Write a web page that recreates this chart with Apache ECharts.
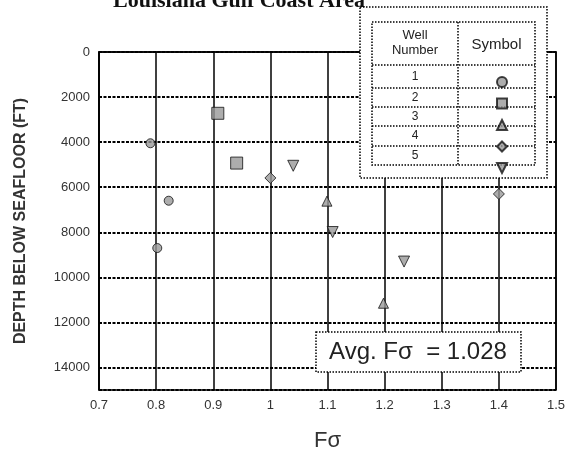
<!DOCTYPE html>
<html>
<head>
<meta charset="utf-8">
<script src="https://cdn.jsdelivr.net/npm/echarts@6/dist/echarts.min.js"></script>
<style>
  html, body { margin: 0; padding: 0; background: #fff; }
  #chart { width: 578px; height: 457px; }
</style>
</head>
<body>
<div id="chart"></div>
<script>
// values, one pair of arrays per well
const wellNames = ['1', '2', '3', '4', '5'];
const well1F = [0.79, 0.822, 0.802];
const well1Depth = [4050, 6600, 8700];
const well2F = [0.908, 0.941];
const well2Depth = [2720, 4930];
const well3F = [1.099, 1.198];
const well3Depth = [6620, 11150];
const well4F = [1.0, 1.4];
const well4Depth = [5590, 6300];
const well5F = [1.04, 1.109, 1.234];
const well5Depth = [5050, 7990, 9300];
const avgF = '1.028';

const font = 'Liberation Sans, Arial, sans-serif';

const pairs = (xs, ys) => xs.map((x, i) => [x, ys[i]]);

// marker look for each well
const symbols = [
    { symbol: 'circle', size: 9 },
    { symbol: 'rect', size: 12 },
    { symbol: 'triangle', size: 10 },
    { symbol: 'diamond', size: 11 },
    { symbol: 'path://M0,0 L10,0 L5,10 Z', size: 11 }
];
const wellData = [
    pairs(well1F, well1Depth),
    pairs(well2F, well2Depth),
    pairs(well3F, well3Depth),
    pairs(well4F, well4Depth),
    pairs(well5F, well5Depth)
];

const chart = echarts.init(document.getElementById('chart'));

// legend table geometry
const tblL = 372, tblR = 535, tblT = 22, tblB = 165, colX = 458;
const rowLines = [65, 88, 107, 126, 146];
const rowMid = [76.5, 97.5, 116.5, 136, 155.5];
const dotted = { stroke: '#000', lineWidth: 1.5, lineDash: [1.5, 1.5] };

const graphic = [
    { type: 'rect', z: 100, shape: { x: 360, y: 7, width: 187, height: 171 },
      style: Object.assign({ fill: '#fff' }, dotted) },
    { type: 'rect', z: 101, shape: { x: tblL, y: tblT, width: tblR - tblL, height: tblB - tblT },
      style: Object.assign({ fill: 'none' }, dotted) },
    { type: 'line', z: 101, shape: { x1: colX, y1: tblT, x2: colX, y2: tblB }, style: dotted },
    { type: 'text', z: 102, x: (tblL + colX) / 2, y: 43,
      style: { text: 'Well\nNumber', font: '13px ' + font, fill: '#222', align: 'center', verticalAlign: 'middle', lineHeight: 15 } },
    { type: 'text', z: 102, x: (colX + tblR) / 2, y: 45,
      style: { text: 'Symbol', font: '15px ' + font, fill: '#222', align: 'center', verticalAlign: 'middle' } },
    // average box
    { type: 'rect', z: 100, shape: { x: 316, y: 332, width: 205, height: 40 },
      style: Object.assign({ fill: '#fff' }, dotted) },
    { type: 'text', z: 102, x: 418, y: 352,
      style: { text: 'Avg. F\u03c3  = ' + avgF, font: '24px ' + font, fill: '#222', align: 'center', verticalAlign: 'middle' } }
];
rowLines.forEach(y => {
    graphic.push({ type: 'line', z: 101, shape: { x1: tblL, y1: y, x2: tblR, y2: y }, style: dotted });
});
wellNames.forEach((n, i) => {
    graphic.push({ type: 'text', z: 102, x: (tblL + colX) / 2, y: rowMid[i],
        style: { text: n, font: '12px ' + font, fill: '#222', align: 'center', verticalAlign: 'middle' } });
});

const option = {
    animation: false,
    backgroundColor: '#fff',
    title: {
        text: 'Louisiana Gulf Coast Area',
        left: 108,
        top: -15,
        textStyle: { fontFamily: 'Liberation Serif, Times New Roman, serif', fontWeight: 'bold', fontSize: 22, color: '#111' }
    },
    grid: { left: 99, right: 22, top: 52, bottom: 62, show: true, borderColor: '#000', borderWidth: 1.5 },
    legend: {
        orient: 'vertical',
        left: 491,
        top: 71,
        z: 110,
        itemWidth: 10,
        itemHeight: 10,
        itemGap: 9.5,
        selectedMode: false,
        formatter: () => '',
        data: wellNames
    },
    xAxis: {
        type: 'value',
        min: 0.7,
        max: 1.5,
        interval: 0.1,
        name: 'F\u03c3',
        nameLocation: 'middle',
        nameGap: 40,
        nameTextStyle: { fontFamily: font, fontSize: 22, color: '#333' },
        axisLine: { lineStyle: { color: '#000', width: 1.5 } },
        axisTick: { show: false },
        axisLabel: { margin: 9, fontFamily: font, fontSize: 13, color: '#333' },
        splitLine: { lineStyle: { color: '#000', width: 1.5 } }
    },
    yAxis: {
        type: 'value',
        inverse: true,
        min: 0,
        max: 15000,
        interval: 2000,
        name: 'DEPTH BELOW SEAFLOOR (FT)',
        nameLocation: 'middle',
        nameGap: 70,
        nameTextStyle: { fontFamily: font, fontSize: 16, fontWeight: 'bold', color: '#333' },
        axisLine: { lineStyle: { color: '#000', width: 1.5 } },
        axisTick: { show: false },
        axisLabel: { showMaxLabel: false, margin: 9, fontFamily: font, fontSize: 13, color: '#333',
                     formatter: v => String(v) },
        splitLine: { lineStyle: { color: '#000', width: 2, type: [3, 1.5] } }
    },
    graphic: graphic,
    series: wellNames.map((n, i) => ({
        name: n,
        type: 'scatter',
        symbol: symbols[i].symbol,
        symbolSize: symbols[i].size,
        itemStyle: { color: '#999', borderColor: '#111', borderWidth: 1 },
        data: wellData[i]
    }))
};

chart.setOption(option);
window.addEventListener('resize', chart.resize);
</script>
</body>
</html>
